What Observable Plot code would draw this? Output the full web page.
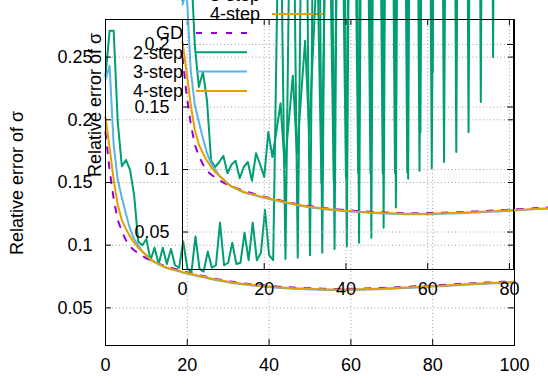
<!DOCTYPE html>
<html><head><meta charset="utf-8">
<script src="https://cdn.jsdelivr.net/npm/d3@7"></script>
<script src="https://cdn.jsdelivr.net/npm/@observablehq/plot@0.6"></script>
<style>
html,body{margin:0;padding:0;background:#fff;}
#chart{position:relative;width:548px;height:384px;overflow:hidden;background:#fff;}
#chart svg{position:absolute;left:0;top:0;}
</style></head><body><div id="chart"></div>
<script>
const epochs = [0,1,2,3,4,5,6,7,8,9,10,11,12,13,14,15,16,17,18,19,20,21,22,23,24,25,26,27,28,29,30,31,32,33,34,35,36,37,38,39,40,41,42,43,44,45,46,47,48,49,50,51,52,53,54,55,56,57,58,59,60,61,62,63,64,65,66,67,68,69,70,71,72,73,74,75,76,77,78,79,80,81,82,83,84,85,86,87,88,89,90,91,92,93,94,95,96,97,98,99,100];

const gd = [
0.19,0.16,0.137,0.12,0.111,0.104,0.099,0.096,0.0935,0.0915,
0.0895,0.088,0.0866,0.0853,0.0841,0.083,0.082,0.0811,0.0802,0.079,
0.0783,0.0775,0.0767,0.076,0.0753,0.0745,0.0738,0.0731,0.0725,0.0719,
0.0713,0.0708,0.0703,0.0699,0.0695,0.0691,0.0687,0.0684,0.0681,0.0678,
0.0675,0.0673,0.067,0.0668,0.0666,0.0664,0.0662,0.066,0.0659,0.0657,
0.0656,0.0655,0.0654,0.0653,0.0652,0.0652,0.0651,0.0651,0.0651,0.0651,
0.0652,0.0652,0.0653,0.0654,0.0655,0.0656,0.0657,0.0658,0.0659,0.0661,
0.0662,0.0664,0.0665,0.0667,0.0668,0.067,0.0672,0.0673,0.0675,0.0677,
0.0679,0.0681,0.0682,0.0684,0.0686,0.0688,0.069,0.0692,0.0694,0.0695,
0.0697,0.0699,0.07,0.0702,0.0703,0.0705,0.0706,0.0708,0.0709,0.0711,
0.0712];

const step2Main = [
0.235,0.271,0.271,0.198,0.163,0.168,0.16,0.14,0.103,0.1,
0.105,0.088,0.098,0.085,0.098,0.085,0.097,0.084,0.082,0.103,
0.082,0.078,0.107,0.081,0.079,0.095,0.082,0.084,0.118,0.084,
0.086,0.102,0.085,0.086,0.11,0.088,0.118,0.088,0.094,0.128,
0.092,0.088,0.3,0.33,0.089,0.35,0.38,0.09,0.4,0.43,
0.092,0.45,0.48,0.094,0.5,0.53,0.097,0.55,0.58,0.099,
0.6,0.63,0.102,0.65,0.68,0.106,0.7,0.73,0.114,0.75,
0.78,0.13,0.8,0.83,0.153,0.85,0.88,0.19,0.9,0.93,
0.238,0.95,0.98,0.31,1.0,1.03,0.39,1.05,1.08,0.47,
1.1,1.13,0.55,1.15,1.18,0.63,1.2,1.23,0.71,1.25,
1.28];

const step2Inset = [
0.235,0.271,0.271,0.2,0.166,0.178,0.155,0.107,0.102,0.106,
0.111,0.097,0.104,0.107,0.093,0.102,0.106,0.091,0.113,0.104,
0.094,0.13,0.11,0.131,0.153,0.102,0.138,0.175,0.113,0.158,
0.203,0.129,0.2,0.27,0.089,0.29,0.31,0.091,0.33,0.35,
0.094,0.37,0.39,0.097,0.41,0.43,0.097,0.45,0.47,0.097,
0.49,0.51,0.097,0.53,0.55,0.0976,0.57,0.59,0.099,0.61,
0.63,0.101,0.65,0.67,0.106,0.69,0.71,0.114,0.73,0.75,
0.13,0.77,0.79,0.154,0.81,0.83,0.19,0.85,0.87,0.26,
0.89,0.91,0.33,0.93,0.95,0.4,0.97,0.99,0.47,1.01,
1.03,0.54,1.05,1.07,0.61,1.09,1.11,0.68,1.13,1.15,
0.75];

const step3 = [
0.232,0.243,0.18,0.152,0.138,0.125,0.113,0.105,0.1,0.095,
0.092,0.089,0.0865,0.0848,0.0832,0.0818,0.0807,0.0799,0.0791,0.0781,
0.0774,0.0766,0.0758,0.0751,0.0744,0.0736,0.0729,0.0722,0.0716,0.071,
0.0704,0.0699,0.0694,0.069,0.0686,0.0682,0.0678,0.0675,0.0672,0.0669,
0.0666,0.0664,0.0661,0.0659,0.0657,0.0655,0.0653,0.0651,0.065,0.0648,
0.0647,0.0646,0.0645,0.0644,0.0643,0.0643,0.0642,0.0642,0.0642,0.0642,
0.0643,0.0643,0.0644,0.0645,0.0646,0.0647,0.0648,0.0649,0.065,0.0652,
0.0653,0.0655,0.0656,0.0658,0.0659,0.0661,0.0663,0.0664,0.0666,0.0668,
0.067,0.0672,0.0673,0.0675,0.0677,0.0679,0.0681,0.0683,0.0685,0.0686,
0.0688,0.069,0.0691,0.0693,0.0694,0.0696,0.0697,0.0699,0.07,0.0702,
0.0703];

const step4 = [
0.202,0.178,0.152,0.132,0.12,0.113,0.107,0.102,0.098,0.095,
0.092,0.0885,0.0865,0.085,0.0835,0.082,0.081,0.0803,0.0795,0.0785,
0.0778,0.077,0.0762,0.0755,0.0748,0.074,0.0733,0.0726,0.072,0.0714,
0.0708,0.0703,0.0698,0.0694,0.069,0.0686,0.0682,0.0679,0.0676,0.0673,
0.067,0.0668,0.0665,0.0663,0.0661,0.0659,0.0657,0.0655,0.0654,0.0652,
0.0651,0.065,0.0649,0.0648,0.0647,0.0647,0.0646,0.0646,0.0646,0.0646,
0.0647,0.0647,0.0648,0.0649,0.065,0.0651,0.0652,0.0653,0.0654,0.0656,
0.0657,0.0659,0.066,0.0662,0.0663,0.0665,0.0667,0.0668,0.067,0.0672,
0.0674,0.0676,0.0677,0.0679,0.0681,0.0683,0.0685,0.0687,0.0689,0.069,
0.0692,0.0694,0.0695,0.0697,0.0698,0.07,0.0701,0.0703,0.0704,0.0706,
0.0707];

const seriesNames = ["GD", "2-step", "3-step", "4-step"];
const seriesColors = ["#9400d3", "#009e73", "#56b4e9", "#e69f00"];
const mainXTicks = [0, 20, 40, 60, 80, 100];
const mainYTicks = [0.05, 0.1, 0.15, 0.2, 0.25];
const insetXTicks = [0, 20, 40, 60, 80];
const insetYTicks = [0.05, 0.1, 0.15, 0.2];
const yLabel = "Relative error of σ";

const FONT = "'Liberation Sans', Arial, Helvetica, sans-serif";
const W = 548, H = 384;

function rows(ys) { return epochs.map((x, i) => ({x, y: ys[i]})); }

function drawPlot(cfg) {
  const pw = W - cfg.ml - cfg.mr, ph = H - cfg.mt - cfg.mb;
  const series = [
    {name: seriesNames[0], ys: gd, color: seriesColors[0], dash: "6,9"},
    {name: seriesNames[1], ys: cfg.green, color: seriesColors[1]},
    {name: seriesNames[2], ys: step3, color: seriesColors[2]},
    {name: seriesNames[3], ys: step4, color: seriesColors[3]}
  ];
  const innerX = cfg.xTicks.filter(t => t > cfg.xDomain[0] && t < cfg.xDomain[1]);
  const innerY = cfg.yTicks.filter(t => t > cfg.yDomain[0] && t < cfg.yDomain[1]);
  const gridStyle = {stroke: "#a0a0a0", strokeOpacity: 1, strokeWidth: 1, strokeDasharray: "1,2.5"};
  const svg = Plot.plot({
    width: W, height: H,
    marginLeft: cfg.ml, marginRight: cfg.mr, marginTop: cfg.mt, marginBottom: cfg.mb,
    x: {domain: cfg.xDomain},
    y: {domain: cfg.yDomain},
    style: {background: "transparent", fontFamily: FONT, fontSize: "18px", color: "black"},
    marks: [
      Plot.gridX(innerX, gridStyle),
      Plot.gridY(innerY, gridStyle),
      ...series.map(s => Plot.line(rows(s.ys), {
        x: "x", y: "y", stroke: s.color, strokeWidth: 2,
        strokeDasharray: s.dash, strokeLinejoin: "round"
      })),
      Plot.frame({stroke: "black", strokeWidth: 1}),
      Plot.ruleX(cfg.xTicks, {stroke: "black", insetTop: ph - 6}),
      Plot.ruleX(cfg.xTicks, {stroke: "black", insetBottom: ph - 6}),
      Plot.ruleY(cfg.yTicks, {stroke: "black", insetRight: pw - 6}),
      Plot.ruleY(cfg.yTicks, {stroke: "black", insetLeft: pw - 6}),
      Plot.axisX(cfg.xTicks, {tickSize: 0, tickPadding: 13, fontSize: 18, tickFormat: d => String(d), label: null}),
      Plot.axisY(cfg.yTicks, {tickSize: 0, tickPadding: 13, fontSize: 18, tickFormat: d => String(d), label: null})
    ]
  });
  const sel = d3.select(svg);
  // y label
  sel.append("text")
    .attr("transform", `translate(${cfg.yl[0]},${cfg.yl[1]}) rotate(-90)`)
    .attr("text-anchor", "middle").attr("dy", "0.35em")
    .attr("font-family", FONT).attr("font-size", 18).attr("fill", "black")
    .text(yLabel);
  // legend
  const lg = sel.append("g");
  series.forEach((s, i) => {
    const y = cfg.leg.y0 + i * cfg.leg.dy;
    lg.append("text").attr("x", cfg.leg.tx).attr("y", y).attr("dy", "0.35em")
      .attr("text-anchor", "end").attr("font-family", FONT).attr("font-size", 18)
      .attr("fill", "black").text(s.name);
    lg.append("line").attr("x1", cfg.leg.x1).attr("x2", cfg.leg.x2)
      .attr("y1", y).attr("y2", y).attr("stroke", s.color).attr("stroke-width", 2)
      .attr("stroke-dasharray", s.dash || null);
  });
  return svg;
}

const chart = document.getElementById("chart");
chart.appendChild(drawPlot({
  ml: 105, mr: 34, mt: 19, mb: 39,
  xDomain: [0, 100], yDomain: [0.02, 0.28],
  xTicks: mainXTicks, yTicks: mainYTicks,
  green: step2Main,
  yl: [17, 183],
  leg: {tx: 260, x1: 272, x2: 323, y0: -43, dy: 19}
}));
chart.appendChild(drawPlot({
  ml: 182, mr: 35, mt: 19, mb: 115,
  xDomain: [0, 81], yDomain: [0.02, 0.22],
  xTicks: insetXTicks, yTicks: insetYTicks,
  green: step2Inset,
  yl: [95, 105],
  leg: {tx: 183, x1: 196, x2: 247, y0: 33, dy: 19.3}
}));
</script></body></html>
